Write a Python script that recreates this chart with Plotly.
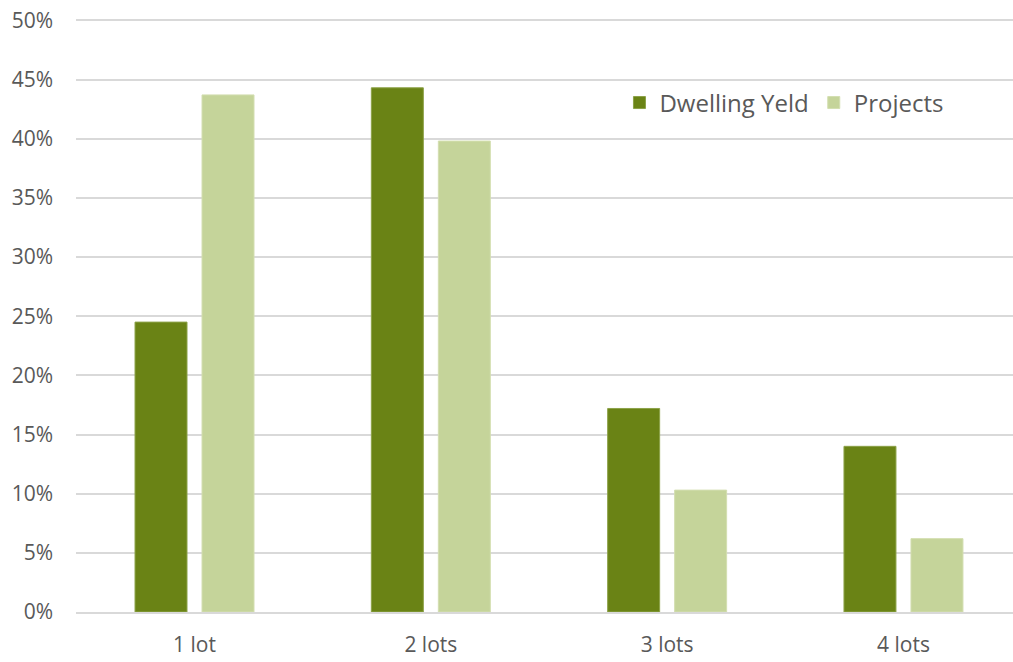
import plotly.graph_objects as go

categories = ["1 lot", "2 lots", "3 lots", "4 lots"]
dwelling_yield = [0.245, 0.443, 0.172, 0.140]
projects = [0.437, 0.398, 0.103, 0.062]
y_ticks = [0, 0.05, 0.10, 0.15, 0.20, 0.25, 0.30, 0.35, 0.40, 0.45, 0.50]

FONT = "Open Sans"
GRAY = "#595959"

fig = go.Figure()
fig.add_trace(go.Bar(
    x=categories, y=dwelling_yield, name="Dwelling Yeld",
    marker=dict(color="#6A8315", line=dict(color="#8CA248", width=1)),
))
fig.add_trace(go.Bar(
    x=categories, y=projects, name="Projects",
    marker=dict(color="#C5D49A", line=dict(color="#D3DEB0", width=1)),
))

fig.update_layout(
    width=1013, height=662,
    margin=dict(l=76, r=0, t=18, b=50, autoexpand=False),
    paper_bgcolor="white", plot_bgcolor="white",
    barmode="group", bargap=0.433, bargroupgap=0.224,
    font=dict(family=FONT, size=21, color=GRAY),
    legend=dict(
        orientation="h", x=0.580, y=0.857, xanchor="left", yanchor="middle",
        font=dict(family=FONT, size=24, color=GRAY),
        bgcolor="rgba(0,0,0,0)", itemwidth=30,
    ),
    xaxis=dict(
        range=[-0.5015, 3.4635],
        showgrid=False, showline=True, linecolor="#D9D9D9", linewidth=2,
        ticks="", tickfont=dict(size=21, color=GRAY), ticklabelstandoff=13,
        automargin=False, ticklabeloverflow="allow",
    ),
    yaxis=dict(
        range=[0, 0.502], tickvals=y_ticks, tickformat=".0%",
        showgrid=True, gridcolor="#D9D9D9", gridwidth=2, zeroline=False,
        ticks="", tickfont=dict(size=21, color=GRAY), ticklabelstandoff=22,
        automargin=False, ticklabeloverflow="allow",
    ),
)

fig.write_html(
    "out.html",
    config={"displayModeBar": False},
    post_script="document.body.style.margin='0';document.body.style.overflow='hidden';",
)
